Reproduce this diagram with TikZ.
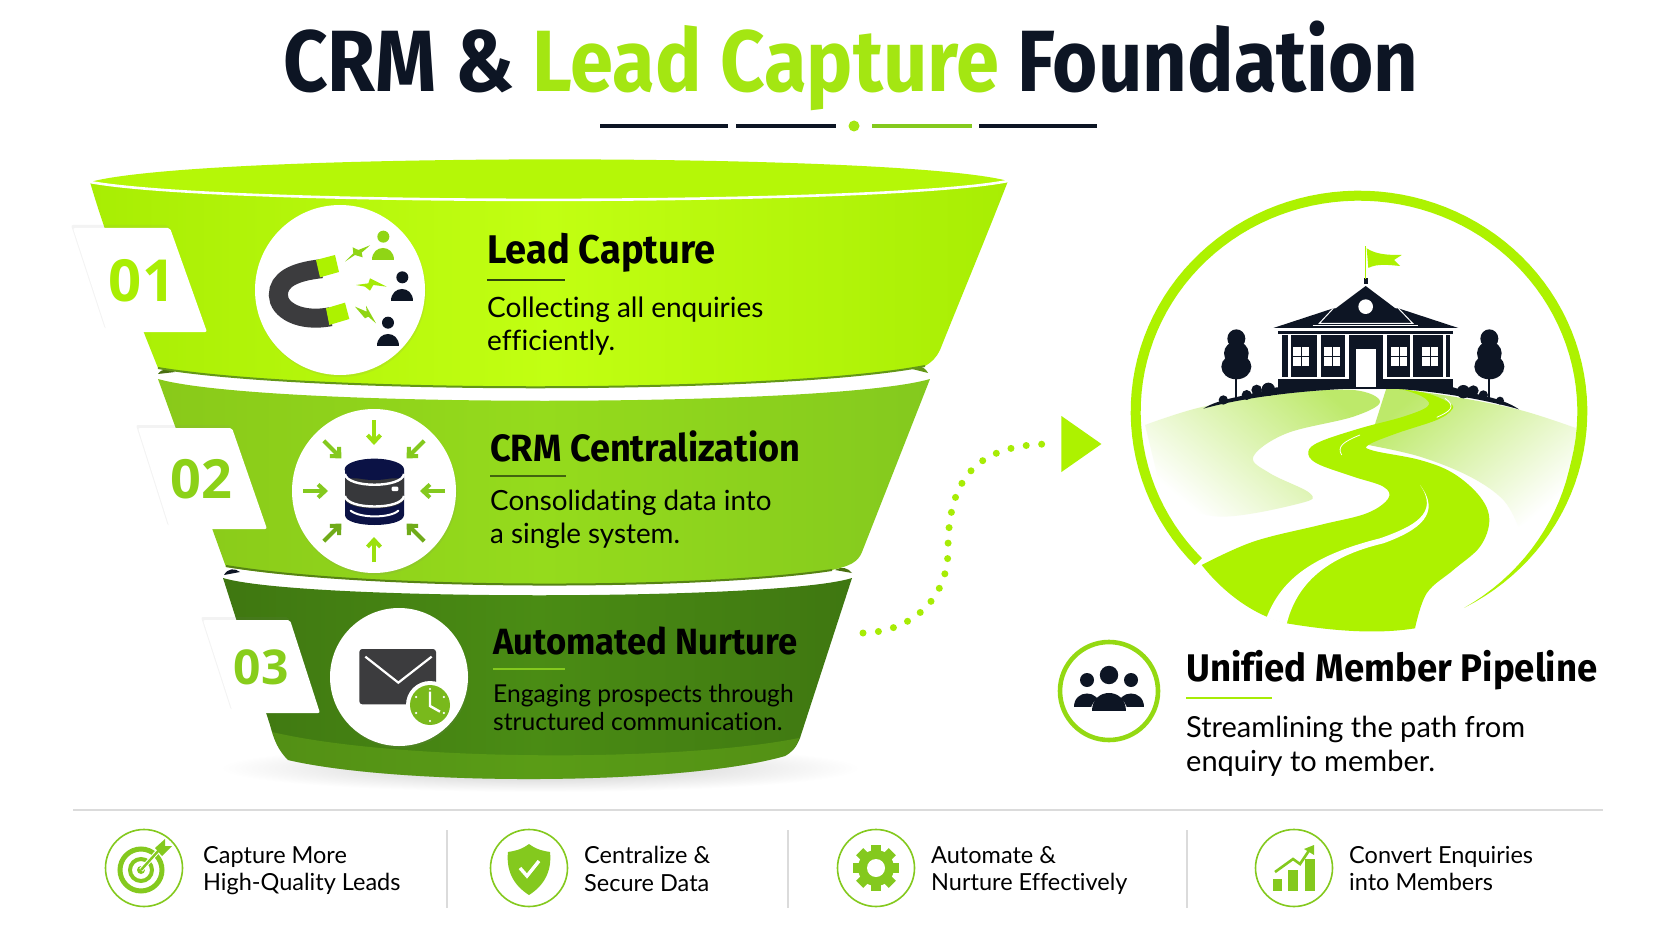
\documentclass[tikz,border=0pt]{standalone}
\usepackage{fontspec}
\usepackage{xcolor}
\setmainfont[Ligatures=NoCommon]{Lato}
\newfontfamily\headfont[FakeStretch=0.95,Ligatures=NoCommon]{Fira Sans}
\newfontfamily\titlefont[FakeStretch=0.893]{Fira Sans}
\newfontfamily\numfont{Open Sans}
\usetikzlibrary{
    arrows.meta,
    shapes.geometric,
    shadows,
    calc
}
\definecolor{navy}{HTML}{0D1524}
\definecolor{inkgray}{HTML}{3C3C3E}
\definecolor{lime}{HTML}{ADF200}
\definecolor{brightlime}{HTML}{C2FF12}
\definecolor{titlelime}{HTML}{A4E612}
\definecolor{leaf}{HTML}{84C91E}
\definecolor{midleaf}{HTML}{95DB1C}
\definecolor{forest}{HTML}{4A8C14}
\definecolor{pale}{HTML}{BDE96A}
\tikzset{
    zoomed/.style 2 args={shift={(#1,#2)},x=0.33333pt,y=-0.33333pt},
    titletext/.style={anchor=base,inner sep=0pt,text=navy,font=\titlefont\bfseries\fontsize{87}{87}\selectfont},
    headtext/.style={anchor=base west,inner sep=0pt,text=black,font=\headfont\bfseries\fontsize{#1}{#1}\selectfont},
    blurb/.style={anchor=north west,inner sep=0pt,align=left,font=\fontsize{#1}{33}\selectfont},
    numtag/.style={fill=white,rounded corners=2pt,drop shadow={opacity=0.09,shadow xshift=-2pt,shadow yshift=3pt}},
    numtext/.style={inner sep=0pt,font=\numfont\bfseries\fontsize{#1}{#1}\selectfont},
    iconcircle/.style={circle,fill=white,inner sep=0pt,minimum size=#1,drop shadow={opacity=0.12,shadow xshift=1pt,shadow yshift=-2pt}},
    footring/.style={circle,draw=leaf,line width=1.6pt,fill=white,inner sep=0pt,minimum size=77pt},
    foottext/.style={anchor=north west,inner sep=0pt,align=left,text=black,font=\fontsize{23.5}{27.5}\selectfont},
    sepline/.style={draw=black!14,line width=1.2pt},
    headrule/.style={line width=2.6pt},
    inarrow/.style={-{Straight Barb[length=7pt,width=13pt,line width=4pt]},line width=4pt,#1}
}
\newcommand{\personfig}[4]{%
    \fill[#4] (#1,#2) circle (#3);
    \fill[#4] ({#1-1.85*#3},{#2+3.9*#3}) .. controls ({#1-1.85*#3},{#2+1.3*#3}) and ({#1+1.85*#3},{#2+1.3*#3}) .. ({#1+1.85*#3},{#2+3.9*#3}) -- cycle;
}
\newcommand{\treefig}[1]{%
    \fill[navy] ({#1-3},450) rectangle ({#1+3},655);
    \fill[navy] (#1,476) ellipse (27 and 28);
    \fill[navy] (#1,520) ellipse (37 and 36);
    \fill[navy] (#1,560) ellipse (45 and 38);
}
\begin{document}
\begin{tikzpicture}[x=1pt,y=-1pt]
    \useasboundingbox (0,0) rectangle (1672,941);
    \fill[white] (0,0) rectangle (1672,941);
    % title
    \node[titletext] (title) at (851,92) {CRM \& \textcolor{titlelime}{Lead Capture} Foundation};
    \draw[navy,line width=3.6pt] (600,126) -- (728,126) (736,126) -- (836,126) (979,126) -- (1097,126);
    \draw[leaf,line width=3.6pt] (872,126) -- (972,126);
    \fill[titlelime] (854,126) circle (5.5);
    % shadow below the funnel
    \shade[inner color=black!22,outer color=white] (540,768) ellipse (320 and 24);
    % third tier
    \fill[white] (223,578) .. controls (223,602) and (853,602) .. (853,577) .. controls (853,560) and (223,560) .. (223,578) -- cycle;
    \shade[left color=forest!85!black,right color=forest!85!black,middle color=forest]
        (223,578) .. controls (300,601) and (780,601) .. (852,578)
        -- (800,738) .. controls (796,748) and (792,752) .. (785,756)
        .. controls (680,786) and (400,786) .. (288,760)
        .. controls (278,750) and (274,740) .. (270,725) -- cycle;
    \fill[leaf,opacity=0.28] (272,732) .. controls (400,762) and (680,762) .. (799,738)
        .. controls (796,748) and (792,752) .. (785,756)
        .. controls (680,786) and (400,786) .. (288,760)
        .. controls (280,752) and (276,744) .. (272,732) -- cycle;
    \fill[navy] (224,575) .. controls (228,568) and (235,568) .. (240,572) -- cycle;
    \fill[leaf!55!black] (835,570) .. controls (842,566) and (848,568) .. (852,573) -- cycle;
    % second tier
    \fill[white] (158,378) .. controls (180,408) and (900,410) .. (930,378) .. controls (920,360) and (170,360) .. (158,378) -- cycle;
    \shade[left color=midleaf!92!black,right color=leaf,middle color=midleaf]
        (158,379) .. controls (260,408) and (830,408) .. (930,379)
        -- (862,552) .. controls (858,562) and (850,566) .. (832,570)
        .. controls (700,590) and (370,590) .. (226,567) -- cycle;
    \draw[leaf!65!black,line width=2pt] (226,566) .. controls (370,590) and (700,590) .. (832,570);
    \fill[leaf!55!black] (158,374) .. controls (162,368) and (170,368) .. (175,372) -- cycle;
    \fill[leaf!75!black] (908,368) .. controls (918,364) and (924,366) .. (928,373) -- cycle;
    % first tier
    \fill[lime!60!brightlime] (90,182) .. controls (200,152) and (900,152) .. (1008,181) .. controls (900,206) and (200,206) .. (90,182) -- cycle;
    \shade[left color=lime!88!leaf,right color=lime!88!leaf,middle color=brightlime]
        (90,182) .. controls (220,206) and (880,206) .. (1008,181)
        .. controls (985,240) and (960,300) .. (940,350)
        .. controls (936,358) and (932,362) .. (925,366)
        .. controls (780,394) and (310,394) .. (158,368)
        .. controls (135,310) and (110,250) .. (90,182) -- cycle;
    \draw[white,line width=2.6pt] (90,182) .. controls (220,206) and (880,206) .. (1008,181);
    \draw[leaf!75!black,line width=2pt] (158,368) .. controls (310,394) and (780,394) .. (925,366);
    % number tags
    \fill[numtag] (73,228) -- (170,228) -- (207,332) -- (107,332) -- cycle;
    \node[numtext=58,text=lime!90!leaf] (numa) at (142,281) {01};
    \fill[numtag] (138,428) -- (232,428) -- (267,529) -- (170,529) -- cycle;
    \node[numtext=54,text=leaf!80!lime] (numb) at (201,479) {02};
    \fill[numtag] (203,620) -- (290,620) -- (320,713) -- (233,713) -- cycle;
    \node[numtext=48,text=leaf!90!lime] (numc) at (261,667) {03};
    % icon circles
    \node[iconcircle=170pt] (magnet) at (340,290) {};
    \node[iconcircle=164pt] (database) at (374,491) {};
    \node[iconcircle=138pt] (mail) at (399,677) {};
    % magnet
    \begin{scope}[zoomed={60}{140}]
        \draw[inkgray,line width=19pt] (785,386) .. controls (700,395) and (655,420) .. (655,465) .. controls (655,510) and (720,548) .. (812,530);
        \fill[lime] (768,360) -- (825,345) -- (837,396) -- (780,412) -- cycle;
        \fill[lime] (798,505) -- (855,488) -- (868,537) -- (808,555) -- cycle;
        \personfig{970}{290}{18}{leaf!70!lime}
        \personfig{1027}{412}{18}{navy}
        \personfig{984}{548}{18}{navy}
        \fill[leaf!70!lime] (855,365) -- (880,340) -- (878,322) -- (895,330) -- (930,316) -- (905,338) -- (908,352) -- (885,345) -- cycle;
        \fill[lime!80!leaf] (888,435) -- (925,430) -- (930,415) -- (980,440) -- (940,435) -- (930,452) -- (915,440) -- cycle;
        \fill[leaf!70!lime] (885,500) -- (920,515) -- (918,497) -- (948,550) -- (925,530) -- (915,535) -- cycle;
    \end{scope}
    % database
    \foreach \a/\c in {0/leaf,45/leaf!85!black,90/lime!55!leaf,135/leaf!85!black,180/leaf,225/leaf,270/lime!55!leaf,315/leaf}
        \draw[inarrow=\c] ($(374,491)+(\a:71)$) -- ($(374,491)+(\a:46)$);
    \begin{scope}[zoomed={130}{390}]
        \fill[navy!85!blue] (645,238) -- (645,375) .. controls (645,415) and (822,415) .. (822,375) -- (822,238) -- cycle;
        \fill[inkgray!90!navy] (645,265) -- (645,325) .. controls (645,365) and (822,365) .. (822,325) -- (822,265) -- cycle;
        \fill[navy!85!blue] (733,238) ellipse (89 and 32);
        \draw[white,line width=2.4pt] (645,252) .. controls (650,295) and (817,295) .. (822,252);
        \draw[white,line width=2.4pt] (645,318) .. controls (650,360) and (817,360) .. (822,318);
        \draw[white,line width=2pt,line cap=round] (662,362) .. controls (690,385) and (780,385) .. (805,362);
        \fill[white,rounded corners=1pt] (785,290) rectangle (805,303);
    \end{scope}
    % envelope with clock
    \begin{scope}[zoomed={130}{390}]
        \fill[inkgray,rounded corners=3pt] (688,777) rectangle (918,943);
        \draw[white,line width=2.2pt] (706,800) -- (805,878) -- (905,800);
        \fill[white] (900,945) circle (72);
        \fill[leaf!92!black] (900,945) circle (60);
        \draw[white,line width=2.4pt] (900,905) -- (900,948) -- (930,965);
        \foreach \a in {30,90,150,210,270,330}
            \fill[white] ($(900,945)+(\a:48)$) circle (1.2pt);
    \end{scope}
    % funnel texts
    \node[headtext=40] (lead) at (487,263) {Lead Capture};
    \draw[headrule,black!65!leaf] (487,280) -- (565,280);
    \node[blurb=28] (leadtxt) at (487,297) {Collecting all enquiries\\efficiently.};
    \node[headtext=38] (crm) at (490,461) {CRM Centralization};
    \draw[headrule,leaf!50!black] (490,476) -- (566,476);
    \node[blurb=27.8] (crmtxt) at (490,490) {Consolidating data into\\a single system.};
    \node[headtext=36.5] (nurture) at (493,654) {Automated Nurture};
    \draw[headrule,leaf] (493,669) -- (565,669);
    \node[blurb=24.6,font=\fontsize{24.6}{28.5}\selectfont] (nurturetxt) at (493,684) {Engaging prospects through\\structured communication.};
    % dotted link to the pipeline
    \coordinate (linkstart) at (863,633);
    \node[isosceles triangle,isosceles triangle apex angle=70,fill=lime,inner sep=0pt,minimum height=37pt,minimum width=56pt] (pointer) at (1076,444) {};
    \draw[lime!85!leaf,line width=7pt,line cap=round,dash pattern=on 0pt off 15.5pt,shorten >=10pt]
        (linkstart) .. controls (910,632) and (948,600) .. (948,550)
        .. controls (948,480) and (975,444) .. (pointer.west);
    % emblem
    \begin{scope}[zoomed={1120}{180}]
        \shade[top color=pale,bottom color=white,shading angle=-40]
            plot[smooth,tension=0.6] coordinates {(75,735) (250,680) (500,640) (700,630) (780,665) (700,710) (500,760) (400,830) (450,880) (570,940) (540,970) (300,1010) (130,960)} -- cycle;
        \shade[top color=pale,bottom color=white,shading angle=40]
            plot[smooth,tension=0.6] coordinates {(800,622) (1000,650) (1200,690) (1370,745)} -- (1340,950) -- (1195,1040)
            -- plot[smooth,tension=0.6] coordinates {(1195,1040) (1150,960) (1050,890) (900,830) (745,795)} -- cycle;
        \fill[lime] plot[smooth,tension=0.6] coordinates {(245,1155) (400,1085) (600,1035) (740,1000) (805,955) (790,920) (700,890) (590,850) (565,815) (600,785) (720,745) (850,710) (922,680) (915,655) (860,632) (800,622)}
            -- plot[smooth,tension=0.6] coordinates {(800,622) (920,640) (990,670) (995,690) (950,720) (830,760) (745,795) (760,812) (900,840) (1000,880) (1080,950) (1108,1020) (1080,1100) (1000,1170) (920,1240) (885,1345)}
            .. controls (760,1365) and (620,1350) .. (500,1330)
            -- (440,1310) .. controls (370,1280) and (300,1225) .. (245,1155) -- cycle;
        % white line on the road
        \fill[white] (440,1312) .. controls (480,1210) and (560,1130) .. (780,1075)
            .. controls (880,1040) and (960,1000) .. (900,915)
            .. controls (965,1000) and (900,1050) .. (790,1090)
            .. controls (620,1130) and (530,1210) .. (500,1332) -- cycle;
        \draw[white,line width=0.8pt] (665,825) .. controls (650,800) and (670,785) .. (720,765);
        \draw[white,line width=0.8pt] (975,655) .. controls (1010,680) and (990,695) .. (950,712);
        % ring
        \fill[lime] plot[domain=224:-62.5,samples=100,variable=\t] ({717+685*cos(\t)},{695-663*sin(\t)})
            -- plot[domain=-62.5:224,samples=100,variable=\t] ({717+(685-min(30,(\t+62.5)*0.63))*cos(\t)},{695-(663-min(30,(\t+62.5)*0.63))*sin(\t)}) -- cycle;
        % hill silhouette and shrubs
        \fill[navy] (250,686) .. controls (300,655) and (350,655) .. (470,622) -- (1000,622) .. controls (1080,650) and (1140,650) .. (1197,688)
            .. controls (1100,660) and (950,632) .. (790,624) -- (690,626) .. controls (550,632) and (380,650) .. (250,686) -- cycle;
        \foreach \sx/\sy/\sr in {310/660/14,380/645/15,410/630/16,445/628/20,1030/635/20,1060/632/16,1090/645/14,1140/662/12}
            \fill[navy] (\sx,\sy) circle (\sr);
        \treefig{349}
        \treefig{1108}
        % building
        \fill[navy] (475,597) rectangle (690,628);
        \fill[navy] (790,597) rectangle (1000,628);
        \fill[navy] (485,465) rectangle (990,590);
        \fill[navy] (475,453) rectangle (998,463);
        \fill[navy] (460,444) -- (640,385) -- (835,385) -- (1015,444) -- cycle;
        \fill[navy] (737,318) -- (895,437) -- (578,437) -- cycle;
        \draw[white,line width=1pt] (640,385) -- (598,430) -- (878,430) -- (835,385);
        \draw[white,line width=1.6pt] (578,437) -- (895,437);
        \fill[white] (505,465) rectangle (512,590);
        \foreach \cx in {592,676,790,870,968}
            \fill[white] (\cx,465) rectangle ({\cx+10},590);
        \fill[navy] (688,465) rectangle (790,628);
        \fill[white] (708,508) rectangle (768,622);
        \fill[white] (737,380) circle (22);
        \foreach \wx in {520,613,813,907} {
            \fill[white] (\wx,500) rectangle ({\wx+48},558);
            \draw[navy,line width=1pt] ({\wx+24},500) -- ({\wx+24},558) ({\wx},529) -- ({\wx+48},529);
        }
        % flag
        \fill[navy] (733,295) rectangle (743,312);
        \draw[lime,line width=1.5pt] (737,296) -- (737,198);
        \fill[lime] (740,205) .. controls (770,225) and (810,225) .. (845,225) -- (822,240) -- (840,258)
            .. controls (810,255) and (770,250) .. (745,264) -- cycle;
    \end{scope}
    % pipeline caption
    \node[circle,draw=leaf!60!lime,line width=4.6pt,fill=white,minimum size=98pt,inner sep=0pt] (pipeline) at (1109,691) {};
    \personfig{1087}{680}{7}{navy}
    \personfig{1131}{680}{7}{navy}
    \personfig{1109}{674}{10.5}{white}
    \personfig{1109}{675}{9.2}{navy}
    \node[headtext=38.5] (unified) at (1186,681) {Unified Member Pipeline};
    \draw[headrule,lime!85!leaf] (1186,698) -- (1272,698);
    \node[blurb=29,text=black,font=\fontsize{29}{34}\selectfont] (unifiedtxt) at (1186,716) {Streamlining the path from\\enquiry to member.};
    % footer
    \draw[sepline] (73,810) -- (1603,810);
    \foreach \sx in {447,788,1187}
        \draw[sepline] (\sx,830) -- (\sx,908);
    \node[footring] (target) at (144,868) {};
    \node[footring] (shield) at (529,868) {};
    \node[footring] (gear) at (876,868) {};
    \node[footring] (growth) at (1294,868) {};
    \node[foottext] (capture) at (203,846) {Capture More\\High-Quality Leads};
    \node[foottext] (secure) at (584,846) {Centralize \&\\Secure Data};
    \node[foottext] (automate) at (931,846) {Automate \&\\Nurture Effectively};
    \node[foottext] (convert) at (1349,846) {Convert Enquiries\\into Members};
    % target icon
    \draw[leaf,line width=5pt] (141,870) circle (21);
    \draw[leaf,line width=4pt] (141,870) circle (11);
    \fill[leaf] (141,870) circle (4);
    \draw[white,line width=4.5pt] (141,870) -- (158,851);
    \draw[leaf,line width=2.4pt] (141,870) -- (160,849);
    \fill[leaf] (155,848) -- (165,839) -- (165,846) -- (172,846) -- (162,856) -- cycle;
    % shield icon
    \fill[leaf] (529,844) .. controls (537,850) and (544,851) .. (550,852)
        .. controls (552,870) and (545,885) .. (529,895)
        .. controls (513,885) and (506,870) .. (508,852)
        .. controls (514,851) and (521,850) .. (529,844) -- cycle;
    \draw[white,line width=3.4pt] (520,868) -- (527,876) -- (539,861);
    % gear icon
    \foreach \a in {0,45,...,315}
        \fill[leaf,rotate around={\a:(876,868)}] (871,845) rectangle (881,856);
    \fill[leaf] (876,868) circle (18);
    \fill[white] (876,868) circle (9);
    % growth icon
    \fill[leaf] (1273,879) rectangle (1282,891);
    \fill[leaf] (1288,870) rectangle (1298,891);
    \fill[leaf] (1305,859) rectangle (1315,891);
    \draw[leaf,line width=2.6pt] (1275,872) -- (1293,859) -- (1300,864) -- (1310,849);
    \fill[leaf] (1304,849) -- (1314,845) -- (1314,855) -- cycle;
\end{tikzpicture}
\end{document}
